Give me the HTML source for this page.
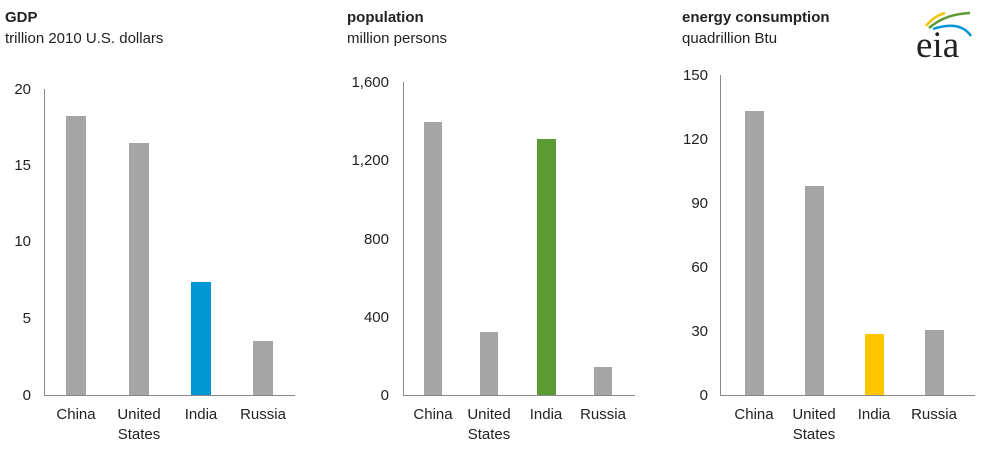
<!DOCTYPE html><html><head><style>body{margin:0;background:#fff}</style></head><body>
<svg width="987" height="456" xmlns="http://www.w3.org/2000/svg" font-family="Liberation Sans, Arial, sans-serif" font-size="15" fill="#222">
<rect width="987" height="456" fill="#fff"/>
<!-- Chart 1 -->
<text x="5" y="22" font-weight="bold" font-size="15">GDP</text>
<text x="5" y="43">trillion 2010 U.S. dollars</text>
<g text-anchor="end">
<text x="31" y="94">20</text><text x="31" y="170">15</text><text x="31" y="246">10</text><text x="31" y="323">5</text><text x="31" y="400">0</text></g>
<line x1="44.5" y1="89" x2="44.5" y2="395" stroke="#888"/>
<line x1="44" y1="395.5" x2="295" y2="395.5" stroke="#888"/>
<rect x="66" y="116" width="20" height="279" fill="#a5a5a5"/>
<rect x="129" y="143" width="20" height="252" fill="#a5a5a5"/>
<rect x="191" y="282" width="20" height="113" fill="#0096d6"/>
<rect x="253" y="341" width="20" height="54" fill="#a5a5a5"/>
<g text-anchor="middle"><text x="76" y="419">China</text><text x="139" y="419">United</text><text x="139" y="439">States</text><text x="201" y="419">India</text><text x="263" y="419">Russia</text></g>
<!-- Chart 2 -->
<text x="347" y="22" font-weight="bold">population</text>
<text x="347" y="43">million persons</text>
<g text-anchor="end">
<text x="389" y="87">1,600</text><text x="389" y="165">1,200</text><text x="389" y="244">800</text><text x="389" y="322">400</text><text x="389" y="400">0</text></g>
<line x1="403.5" y1="82" x2="403.5" y2="395" stroke="#888"/>
<line x1="403" y1="395.5" x2="635" y2="395.5" stroke="#888"/>
<rect x="424" y="122" width="18" height="273" fill="#a5a5a5"/>
<rect x="480" y="332" width="18" height="63" fill="#a5a5a5"/>
<rect x="537" y="139" width="19" height="256" fill="#5c9b31"/>
<rect x="594" y="367" width="18" height="28" fill="#a5a5a5"/>
<g text-anchor="middle"><text x="433" y="419">China</text><text x="489" y="419">United</text><text x="489" y="439">States</text><text x="546" y="419">India</text><text x="603" y="419">Russia</text></g>
<!-- Chart 3 -->
<text x="682" y="22" font-weight="bold">energy consumption</text>
<text x="682" y="43">quadrillion Btu</text>
<g text-anchor="end">
<text x="708" y="80">150</text><text x="708" y="144">120</text><text x="708" y="208">90</text><text x="708" y="272">60</text><text x="708" y="336">30</text><text x="708" y="400">0</text></g>
<line x1="720.5" y1="75" x2="720.5" y2="395" stroke="#888"/>
<line x1="720" y1="395.5" x2="975" y2="395.5" stroke="#888"/>
<rect x="745" y="111" width="19" height="284" fill="#a5a5a5"/>
<rect x="805" y="186" width="19" height="209" fill="#a5a5a5"/>
<rect x="865" y="334" width="19" height="61" fill="#ffc600"/>
<rect x="925" y="330" width="19" height="65" fill="#a5a5a5"/>
<g text-anchor="middle"><text x="754" y="419">China</text><text x="814" y="419">United</text><text x="814" y="439">States</text><text x="874" y="419">India</text><text x="934" y="419">Russia</text></g>
<!-- logo -->
<path d="M926 26 Q934 16 945 13" stroke="#f5c400" stroke-width="2.5" fill="none"/>
<path d="M929 28 Q945 14 970 13" stroke="#5c9b31" stroke-width="2.5" fill="none"/>
<path d="M933 29 Q960 20 971 36" stroke="#0096d6" stroke-width="2.5" fill="none"/>
<text x="916" y="57" font-family="Liberation Serif, serif" font-size="37" fill="#222">eia</text>
</svg>
</body></html>
